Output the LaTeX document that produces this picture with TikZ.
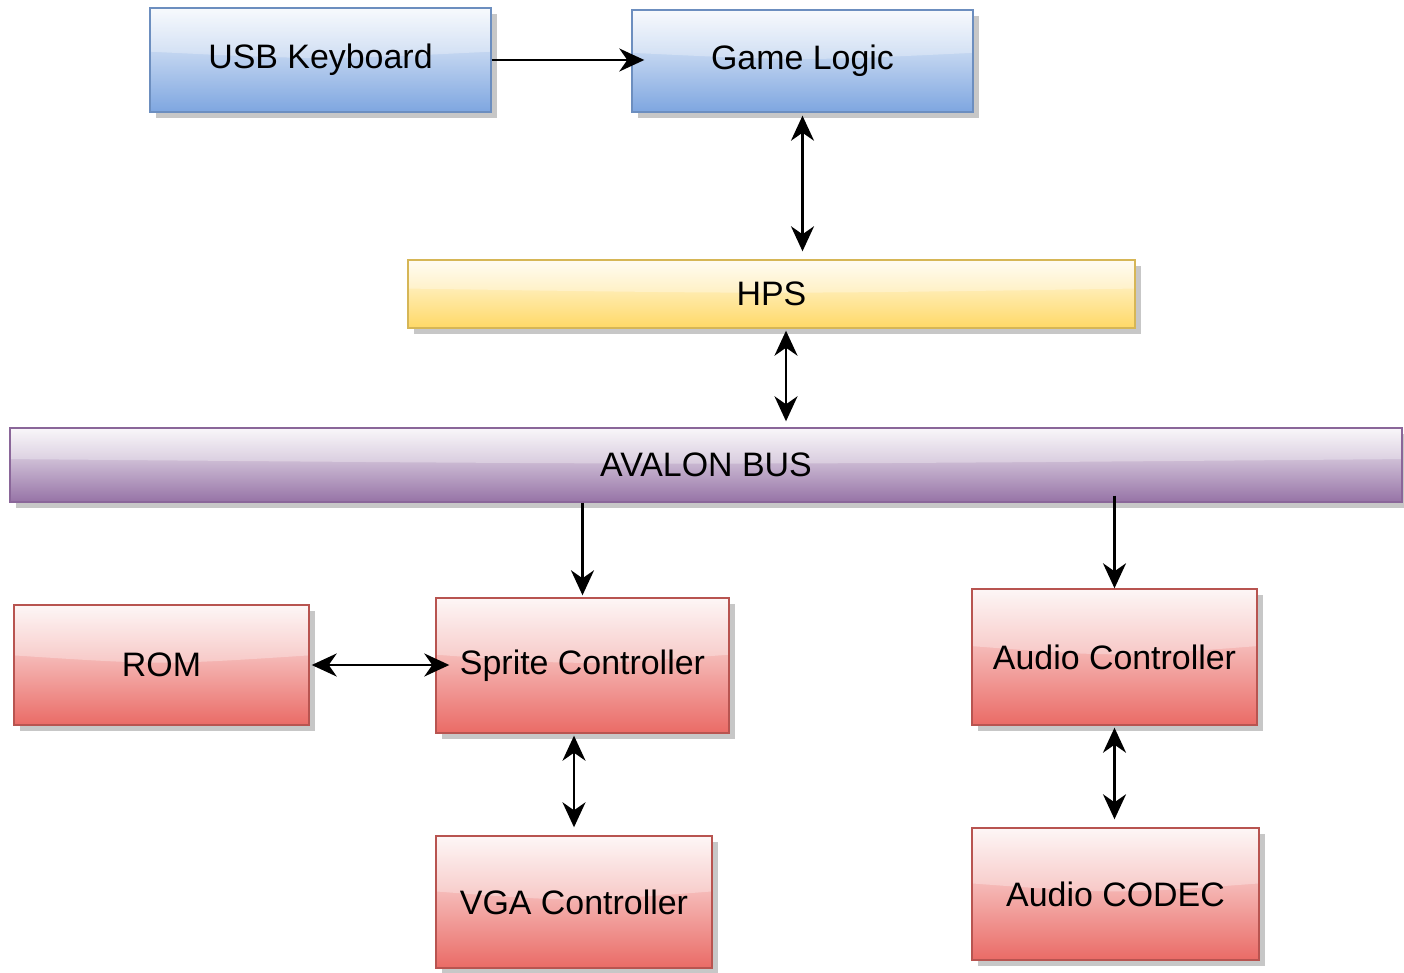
\documentclass[tikz,border=0pt]{standalone}
\usepackage{fontspec}
\setmainfont{Liberation Sans}
\usetikzlibrary{arrows.meta,shadows,calc}
\definecolor{bluef}{HTML}{7EA6E0}
\definecolor{blueb}{HTML}{6C8EBF}
\definecolor{yellowf}{HTML}{FFD966}
\definecolor{yellowb}{HTML}{D6B656}
\definecolor{purplef}{HTML}{9673A6}
\definecolor{purpleb}{HTML}{8A6699}
\definecolor{redf}{HTML}{EA6B66}
\definecolor{redb}{HTML}{B85450}
\tikzset{
  box/.style={rectangle, inner sep=0pt, line width=0.8pt,
    font=\fontsize{19.3}{23}\selectfont,
    drop shadow={shadow xshift=0.12cm, shadow yshift=-0.12cm, fill=black!22, opacity=1},
    path picture={
      \fill[white,opacity=0.3] (path picture bounding box.north west) -- (path picture bounding box.north east)
        -- ($(path picture bounding box.north east)!0.42!(path picture bounding box.south east)$)
        .. controls ($(path picture bounding box.north)!0.5!(path picture bounding box.south)$) ..
        ($(path picture bounding box.north west)!0.42!(path picture bounding box.south west)$) -- cycle;
    }},
  bluebox/.style={box, draw=blueb, top color=bluef!8!white, middle color=bluef!62!white, bottom color=bluef},
  yellowbox/.style={box, draw=yellowb, top color=yellowf!12!white, middle color=yellowf!65!white, bottom color=yellowf},
  purplebox/.style={box, draw=purpleb, top color=purplef!8!white, middle color=purplef!60!white, bottom color=purplef},
  redbox/.style={box, draw=redb, top color=redf!8!white, middle color=redf!62!white, bottom color=redf},
  tip/.tip={Stealth[length=0.5cm,width=0.46cm,inset=0.16cm]},
  arr/.style={line width=1.5pt, -tip},
  biarr/.style={line width=1.5pt, tip-tip},
}
\begin{document}
\begin{tikzpicture}
\useasboundingbox (0,0) rectangle (28.08,-19.46);
\node[bluebox, minimum width=6.82cm, minimum height=2.08cm] (usb) at (6.41,-1.2) {USB Keyboard};
\node[bluebox, minimum width=6.82cm, minimum height=2.04cm] (game) at (16.05,-1.22) {Game Logic};
\node[yellowbox, minimum width=14.54cm, minimum height=1.36cm] (hps) at (15.43,-5.88) {HPS};
\node[purplebox, minimum width=27.84cm, minimum height=1.48cm] (bus) at (14.12,-9.3) {AVALON BUS};
\node[redbox, minimum width=5.9cm, minimum height=2.4cm] (rom) at (3.23,-13.3) {ROM};
\node[redbox, minimum width=5.86cm, minimum height=2.7cm] (sprite) at (11.65,-13.31) {Sprite Controller};
\node[redbox, minimum width=5.7cm, minimum height=2.72cm] (audio) at (22.29,-13.14) {Audio Controller};
\node[redbox, minimum width=5.52cm, minimum height=2.64cm] (vga) at (11.48,-18.04) {VGA Controller};
\node[redbox, minimum width=5.74cm, minimum height=2.64cm] (codec) at (22.31,-17.88) {Audio CODEC};

\coordinate (gin) at ([xshift=0.26cm]game.west);
\draw[arr] (usb.east) -- (usb.east -| gin);
\draw[biarr, shorten <=0.06cm, shorten >=0.16cm] (game.south) -- (game.south |- hps.north);
\coordinate (hout) at ([xshift=0.29cm]hps.south);
\draw[biarr, shorten <=0.04cm, shorten >=0.12cm] (hout) -- (hout |- bus.north);
\draw[arr, shorten >=0.04cm] (sprite.north |- bus.south) -- (sprite.north);
\draw[arr] ([yshift=0.14cm]audio.north |- bus.south) -- (audio.north);
\coordinate (sin) at ([xshift=0.28cm]sprite.west);
\draw[biarr, shorten <=0.04cm] (rom.east) -- (rom.east -| sin);
\draw[biarr, shorten <=0.04cm, shorten >=0.16cm] (vga.north |- sprite.south) -- (vga.north);
\draw[biarr, shorten <=0.04cm, shorten >=0.16cm] (audio.south) -- (audio.south |- codec.north);
\end{tikzpicture}
\end{document}
